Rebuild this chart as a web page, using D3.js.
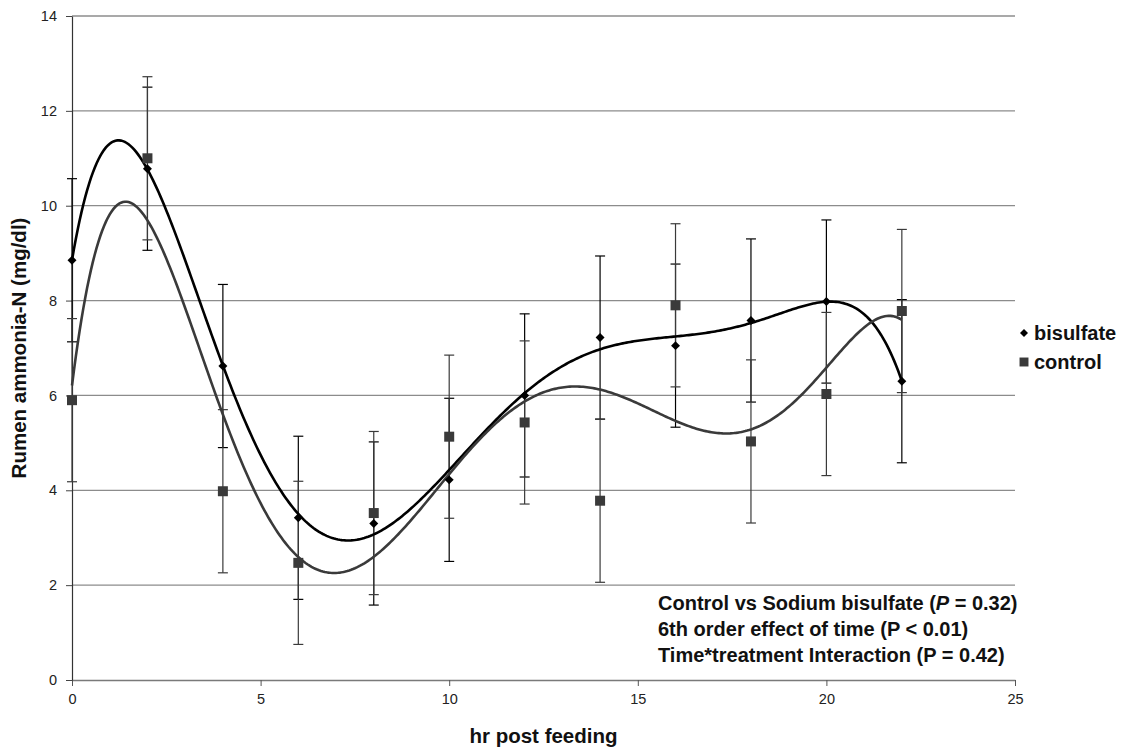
<!DOCTYPE html>
<html>
<head>
<meta charset="utf-8">
<script src="https://cdn.jsdelivr.net/npm/d3@7"></script>
<style>
  body { margin: 0; background: #fff; }
  svg { font-family: Arial, 'Liberation Sans', sans-serif; }
</style>
</head>
<body>
<div id="chart"></div>
<script>
// hours post feeding
const hours = [0, 2, 4, 6, 8, 10, 12, 14, 16, 18, 20, 22];
// rumen ammonia-N means (mg/dl)
const bisulfate = [8.85, 10.78, 6.62, 3.42, 3.3, 4.22, 6.0, 7.22, 7.05, 7.58, 7.98, 6.3];
const control = [5.9, 11.0, 3.98, 2.47, 3.52, 5.13, 5.43, 3.78, 7.9, 5.03, 6.03, 7.78];
// standard errors
const bisulfateSE = [1.72, 1.72, 1.72, 1.72, 1.72, 1.72, 1.72, 1.72, 1.72, 1.72, 1.72, 1.72];
const controlSE = [1.72, 1.72, 1.72, 1.72, 1.72, 1.72, 1.72, 1.72, 1.72, 1.72, 1.72, 1.72];
const xTicks = [0, 5, 10, 15, 20, 25];
const yTicks = [0, 2, 4, 6, 8, 10, 12, 14];
const notes = [
  ['Control vs Sodium bisulfate (', 'P', ' = 0.32)'],
  ['6th order effect of time (P < 0.01)'],
  ['Time*treatment Interaction (P = 0.42)'],
];

const width = 1123;
const height = 751;
const margin = { left: 72, right: 108, top: 16, bottom: 71 };

const svg = d3
  .select('#chart')
  .append('svg')
  .attr('width', width)
  .attr('height', height);

const x = d3.scaleLinear().domain([0, 25]).range([margin.left, width - margin.right]);
const y = d3.scaleLinear().domain([0, 14]).range([height - margin.bottom, margin.top]);

// least squares polynomial trendline (like the spreadsheet's 6th order fit)
function polyfit(xs, ys, deg) {
  const c = 11;
  const s = 11;
  const n = deg + 1;
  const A = d3.range(n).map(() => new Array(n + 1).fill(0));
  xs.forEach((xv, k) => {
    const t = (xv - c) / s;
    const pw = d3.range(2 * n).map((p) => Math.pow(t, p));
    for (let i = 0; i < n; i++) {
      for (let j = 0; j < n; j++) A[i][j] += pw[i + j];
      A[i][n] += pw[i] * ys[k];
    }
  });
  for (let i = 0; i < n; i++) {
    let piv = i;
    for (let r = i + 1; r < n; r++) if (Math.abs(A[r][i]) > Math.abs(A[piv][i])) piv = r;
    [A[i], A[piv]] = [A[piv], A[i]];
    for (let r = 0; r < n; r++) {
      if (r === i) continue;
      const f = A[r][i] / A[i][i];
      for (let k = i; k <= n; k++) A[r][k] -= f * A[i][k];
    }
  }
  const coef = A.map((row, i) => row[n] / row[i]);
  return (xv) => {
    const t = (xv - c) / s;
    return coef.reduce((acc, a, p) => acc + a * Math.pow(t, p), 0);
  };
}

// gridlines
svg
  .append('g')
  .selectAll('line')
  .data(yTicks.slice(1))
  .join('line')
  .attr('x1', x(0))
  .attr('x2', x(25))
  .attr('y1', (d) => y(d))
  .attr('y2', (d) => y(d))
  .attr('stroke', '#8c8c8c')
  .attr('stroke-width', 1.3);

// axes
const xAxis = svg
  .append('g')
  .attr('transform', `translate(0,${y(0)})`)
  .call(d3.axisBottom(x).tickValues(xTicks).tickSize(6).tickPadding(8).tickSizeOuter(0));
xAxis.select('.domain').attr('stroke', '#7a7a7a').attr('stroke-width', 1.3);
xAxis.selectAll('.tick line').attr('stroke', '#555');

const yAxis = svg
  .append('g')
  .attr('transform', `translate(${x(0)},0)`)
  .call(d3.axisLeft(y).tickValues(yTicks).tickSize(6).tickPadding(9).tickSizeOuter(0));
yAxis.select('.domain').attr('stroke', '#333').attr('stroke-width', 1.2);
yAxis.selectAll('.tick line').attr('stroke', '#444');

svg
  .selectAll('.tick text')
  .attr('font-size', 14.5)
  .attr('fill', '#222')
  .attr('font-family', 'Arial, Liberation Sans, sans-serif');

// axis titles
svg
  .append('text')
  .attr('x', x(12.5))
  .attr('y', 743)
  .attr('text-anchor', 'middle')
  .attr('font-size', 20.5)
  .attr('font-weight', 'bold')
  .attr('fill', '#111')
  .text('hr post feeding');

svg
  .append('text')
  .attr('transform', `translate(26,${y(7)}) rotate(-90)`)
  .attr('text-anchor', 'middle')
  .attr('font-size', 20.5)
  .attr('font-weight', 'bold')
  .attr('fill', '#111')
  .text('Rumen ammonia-N (mg/dl)');

// diamonds are squares turned 45deg, as in the spreadsheet chart
const series = [
  { name: 'bisulfate', values: bisulfate, se: bisulfateSE, color: '#000', size: 40, rot: 45 },
  { name: 'control', values: control, se: controlSE, color: '#3a3a3a', size: 100, rot: 0 },
];

// error bars
series.forEach((s) => {
  const g = svg.append('g').attr('class', 'err-' + s.name);
  const rows = hours.map((h, i) => ({ h, lo: s.values[i] - s.se[i], hi: s.values[i] + s.se[i] }));
  g.selectAll('.v')
    .data(rows)
    .join('line')
    .attr('x1', (d) => x(d.h))
    .attr('x2', (d) => x(d.h))
    .attr('y1', (d) => y(d.lo))
    .attr('y2', (d) => y(d.hi))
    .attr('stroke', s.color)
    .attr('stroke-width', 1.2);
  ['lo', 'hi'].forEach((k) => {
    g.selectAll('.' + k)
      .data(rows)
      .join('line')
      .attr('x1', (d) => x(d.h) - 5)
      .attr('x2', (d) => x(d.h) + 5)
      .attr('y1', (d) => y(d[k]))
      .attr('y2', (d) => y(d[k]))
      .attr('stroke', s.color)
      .attr('stroke-width', 1.2);
  });
});

// trendlines
const line = d3
  .line()
  .x((d) => x(d[0]))
  .y((d) => y(d[1]))
  .curve(d3.curveLinear);
series.forEach((s) => {
  const f = polyfit(hours, s.values, 6);
  const pts = d3.range(0, 22.0001, 0.05).map((h) => [h, f(h)]);
  svg
    .append('path')
    .datum(pts)
    .attr('d', line)
    .attr('fill', 'none')
    .attr('stroke', s.color)
    .attr('stroke-width', 2.6);
});

// markers
series.forEach((s) => {
  svg
    .append('g')
    .selectAll('path')
    .data(hours.map((h, i) => [h, s.values[i]]))
    .join('path')
    .attr('d', d3.symbol().type(d3.symbolSquare).size(s.size))
    .attr('transform', (d) => `translate(${x(d[0])},${y(d[1])}) rotate(${s.rot})`)
    .attr('fill', s.color);
});

// legend
const legend = svg.append('g').attr('transform', 'translate(1024,333)');
series.forEach((s, i) => {
  const row = legend.append('g').attr('transform', `translate(0,${i * 29})`);
  row
    .append('path')
    .attr('d', d3.symbol().type(d3.symbolSquare).size(s.size * 0.8))
    .attr('transform', `rotate(${s.rot})`)
    .attr('fill', s.color);
  row
    .append('text')
    .attr('x', 10)
    .attr('y', 7)
    .attr('font-size', 20)
    .attr('font-weight', 'bold')
    .attr('fill', '#111')
    .text(s.name);
});

// statistics note
const note = svg.append('g');
notes.forEach((parts, i) => {
  const t = note
    .append('text')
    .attr('x', 658)
    .attr('y', 610 + i * 26)
    .attr('font-size', 20)
    .attr('font-weight', 'bold')
    .attr('fill', '#111');
  parts.forEach((p, j) => {
    t.append('tspan')
      .attr('font-style', parts.length > 1 && j === 1 ? 'italic' : 'normal')
      .text(p);
  });
});
</script>
</body>
</html>
